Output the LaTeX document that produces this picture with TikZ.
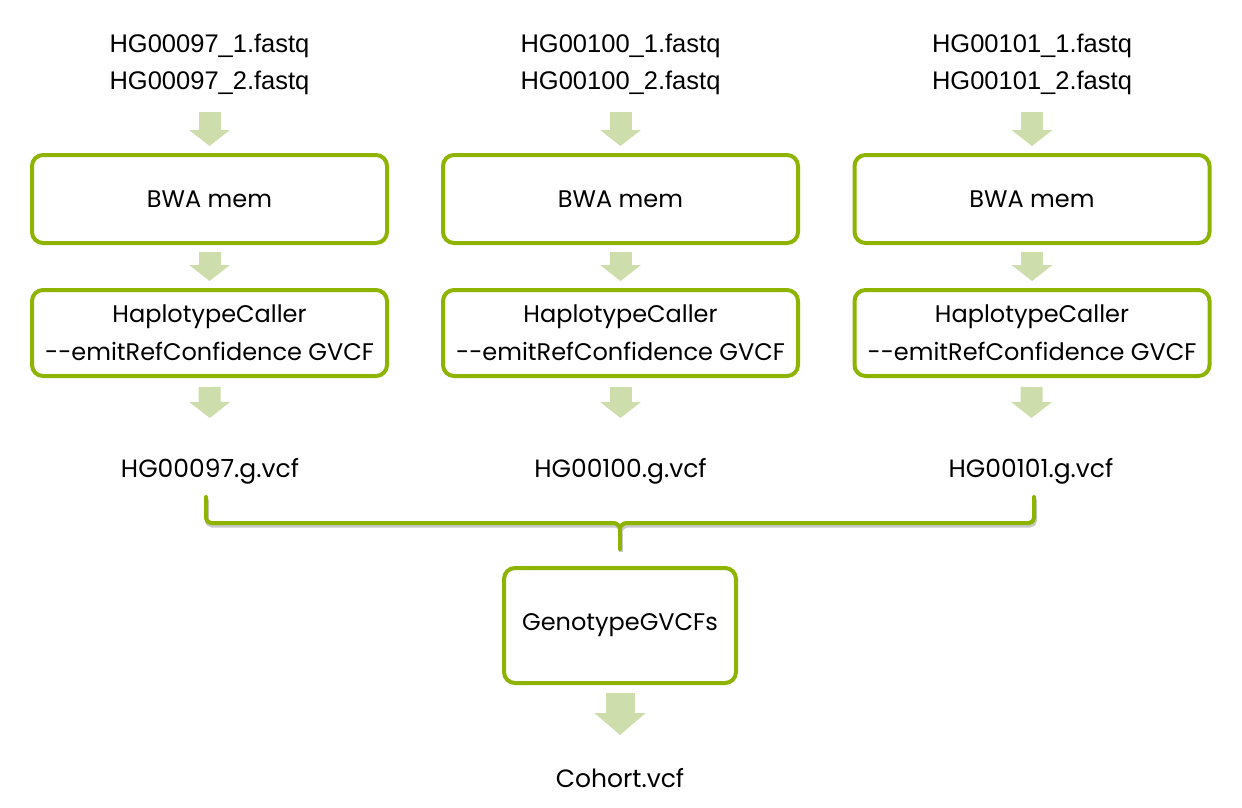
\documentclass[tikz,border=0pt]{standalone}
\usepackage{fontspec}
\setmainfont{Liberation Sans}
\newfontfamily\gothicfont{Poppins}
\usepackage{tikz}
\usetikzlibrary{arrows.meta, positioning}
\definecolor{boxcolor}{RGB}{140, 180, 0}
\definecolor{arrowcolor}{RGB}{205, 222, 172}
\definecolor{shadecolor}{RGB}{200, 200, 200}

\begin{document}
\begin{tikzpicture}[x=1pt, y=-1pt,
        filetext/.style={inner sep=0pt, align=center, font=\fontsize{25.5}{37}\selectfont},
        vcftext/.style={inner sep=0pt, font=\gothicfont\fontsize{25}{30}\selectfont},
        stepbox/.style={draw=boxcolor, line width=4pt, rounded corners=11pt, fill=white, minimum width=355pt, align=center, font=\gothicfont\fontsize{24}{38}\selectfont},
        flowarrow/.style={draw=arrowcolor, line width=22pt, -{Triangle[length=16pt, width=40pt]}},
        bigarrow/.style={draw=arrowcolor, line width=29pt, -{Triangle[length=22pt, width=50pt]}},
        bracket/.style={draw=boxcolor, line width=4pt, line cap=round, rounded corners=5pt,
            preaction={draw=shadecolor, line width=4pt, transform canvas={xshift=1pt, yshift=-2.5pt}}}]
        \fill[white] (0,0) rectangle (1242,808);
        \useasboundingbox (0,0) rectangle (1242,808);

        % Input reads
        \node[filetext, anchor=north] (fqa) at (209.5,34) {HG00097\_1.fastq\\HG00097\_2.fastq};
        \node[filetext, anchor=north] (fqb) at (620.5,34) {HG00100\_1.fastq\\HG00100\_2.fastq};
        \node[filetext, anchor=north] (fqc) at (1032,34) {HG00101\_1.fastq\\HG00101\_2.fastq};

        % Alignment
        \node[stepbox, minimum height=88pt] (bwaa) at (209.5,199) {BWA mem};
        \node[stepbox, minimum height=88pt] (bwab) at (620.5,199) {BWA mem};
        \node[stepbox, minimum height=88pt] (bwac) at (1032,199) {BWA mem};

        % Variant calling per sample
        \node[stepbox, minimum height=86pt] (hca) at (209.5,333) {HaplotypeCaller\\-\kern0pt-emitRefConfidence GVCF};
        \node[stepbox, minimum height=86pt] (hcb) at (620.5,333) {HaplotypeCaller\\-\kern0pt-emitRefConfidence GVCF};
        \node[stepbox, minimum height=86pt] (hcc) at (1032,333) {HaplotypeCaller\\-\kern0pt-emitRefConfidence GVCF};

        \node[vcftext, anchor=north] (gvcfa) at (210,458) {HG00097.g.vcf};
        \node[vcftext, anchor=north] (gvcfb) at (620.5,458) {HG00100.g.vcf};
        \node[vcftext, anchor=north] (gvcfc) at (1031,458) {HG00101.g.vcf};

        % Joint genotyping
        \node[stepbox, minimum width=232pt, minimum height=115pt] (joint) at (620,625.5) {GenotypeGVCFs};
        \node[vcftext, anchor=north] (cohort) at (620,768) {Cohort.vcf};

        % Arrows
        \draw[flowarrow, shorten <=17pt, shorten >=7pt] (fqa) -- (bwaa);
        \draw[flowarrow, shorten <=17pt, shorten >=7pt] (fqb) -- (bwab);
        \draw[flowarrow, shorten <=17pt, shorten >=7pt] (fqc) -- (bwac);
        \draw[flowarrow, shorten <=7pt, shorten >=7pt] (bwaa) -- (hca);
        \draw[flowarrow, shorten <=7pt, shorten >=7pt] (bwab) -- (hcb);
        \draw[flowarrow, shorten <=7pt, shorten >=7pt] (bwac) -- (hcc);
        \draw[flowarrow, shorten <=9pt, shorten >=40pt] (hca) -- (gvcfa);
        \draw[flowarrow, shorten <=9pt, shorten >=40pt] (hcb) -- (gvcfb);
        \draw[flowarrow, shorten <=9pt, shorten >=40pt] (hcc) -- (gvcfc);
        \draw[bigarrow, shorten <=8pt, shorten >=33pt] (joint) -- (cohort);

        % Merge bracket
        \coordinate (brl) at (206,497);
        \coordinate (brr) at (1034,497);
        \coordinate (brm) at (620,549);
        \draw[bracket] (brl) -- (206,523) -- (609,523) .. controls (616,523) and (620,526) .. (620,533)
            .. controls (620,526) and (624,523) .. (631,523) -- (1034,523) -- (brr);
        \draw[bracket] (620,530) -- (brm);
\end{tikzpicture}
\end{document}
